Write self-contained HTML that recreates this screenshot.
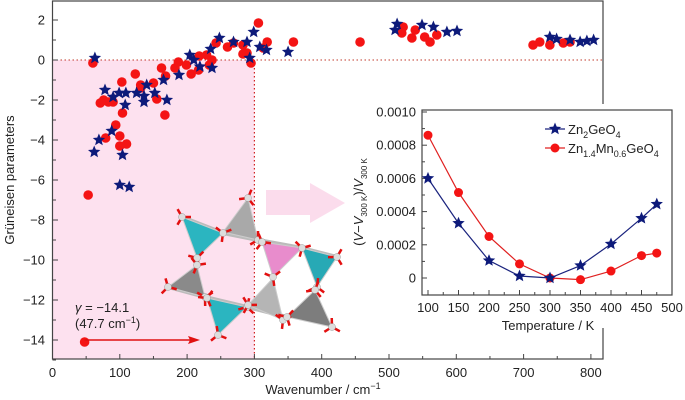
<!DOCTYPE html>
<html><head><meta charset="utf-8"><style>
body{margin:0;background:#fff}
svg{display:block;font-family:"Liberation Sans",sans-serif}
</style></head><body>
<svg id="c" width="685" height="400" viewBox="0 0 685 400"></svg>
<script>
// main chart data
const blueW=[63,62,69,78,88,90,99,109,108,104,100,114,125,136,136,140,152,165,170,188,204,219,237,235,248,269,289,299,308,318,350,293,210,512,509,549,566,586,601,739,749,769,784,794,804];
const blueG=[0.1,-4.6,-4,-1.5,-3.55,-1.85,-1.65,-1.65,-2.25,-4.75,-6.25,-6.35,-1.65,-2.1,-1.8,-1.25,-1.65,-1,-2,-0.75,0.25,-0.33,-0.4,0.55,1.1,0.9,0.9,1.4,0.65,0.5,0.4,0.1,0,1.8,1.5,1.75,1.65,1.4,1.45,1.15,1.05,1.0,0.9,0.95,1.0];
const redW=[60,53,71,76,83,90,79,94,100,100,110,104,103,123,131,131,150,155,162,167,168,182,187,199,206,217,218,229,237,233,243,260,269,283,283,289,295,306,313,319,358,457,521,519,534,539,553,561,571,714,724,739,759,769,47.7];
const redG=[-0.15,-6.75,-2.15,-2.0,-2.1,-2.1,-3.9,-3.25,-3.8,-4.3,-4.2,-2.65,-1.1,-0.7,-1.25,-1.4,-1.15,-1.95,-0.4,-2.75,-0.8,-0.4,-0.1,-0.25,-0.7,-0.5,0.2,0.25,0,-0.25,0.85,0.65,0.85,0.75,0.3,0.35,-0.15,1.85,0.6,0.9,0.9,0.9,1.65,1.35,1.1,1.5,1.15,0.9,1.25,0.75,0.9,0.75,0.85,0.9,-14.1];
const xTicks=[0,100,200,300,400,500,600,700,800];
const yTicks=[2,0,-2,-4,-6,-8,-10,-12,-14];
// inset data
const temps=[100,150,200,250,300,350,400,450,475];
const zgo=[0.00060,0.00033,0.000105,0.000012,0,0.000075,0.000205,0.00036,0.000445];
const zmgo=[0.00086,0.000515,0.00025,0.000085,0,-0.00001,0.000042,0.000135,0.00015];
const ixTicks=[100,150,200,250,300,350,400,450,500];
const iyTicks=[0,0.0002,0.0004,0.0006,0.0008,0.0010];
const iyLabels=["0","0.0002","0.0004","0.0006","0.0008","0.0010"];

const svg=document.getElementById('c');
const NS='http://www.w3.org/2000/svg';
function mk(t,a,p){const e=document.createElementNS(NS,t);for(const k in a)e.setAttribute(k,a[k]);(p||svg).appendChild(e);return e;}
const X=w=>52.5+w*0.673, Y=g=>60-g*20;
const IX=t=>428+(t-100)*0.61, IY=v=>278-v*166000;
function star(cx,cy,r,fill,p){let pts=[];for(let i=0;i<10;i++){const a=-Math.PI/2+i*Math.PI/5,rr=i%2?r*0.45:r;pts.push((cx+rr*Math.cos(a)).toFixed(1)+','+(cy+rr*Math.sin(a)).toFixed(1));}return mk('polygon',{points:pts.join(' '),fill:fill},p);}

// pink region
let e=mk('rect',{x:X(0),y:Y(0),width:X(300)-X(0),height:359-Y(0),fill:'#fde1ef'});

mk('line',{x1:X(0),y1:Y(0),x2:603,y2:Y(0),stroke:'#c0392b','stroke-width':1,'stroke-dasharray':'1.5,2.5'});
mk('line',{x1:X(300),y1:Y(0),x2:X(300),y2:359,stroke:'#d02020','stroke-width':1.2,'stroke-dasharray':'1.5,2.5'});
// frame
e=mk('rect',{x:52.5,y:1,width:550.5,height:358,fill:'none',stroke:'#444','stroke-width':1.2});

const xg=mk('g',{'font-size':13,fill:'#222','text-anchor':'middle'});

xTicks.forEach(t=>{mk('line',{x1:X(t),y1:359,x2:X(t),y2:354,stroke:'#444'},xg);if(t<800)mk('line',{x1:X(t+50),y1:359,x2:X(t+50),y2:356,stroke:'#444'},xg);const tx=mk('text',{x:X(t),y:377},xg);tx.textContent=t;});
const yg=mk('g',{'font-size':13,fill:'#222','text-anchor':'end'});

yTicks.forEach(t=>{mk('line',{x1:52.5,y1:Y(t),x2:58,y2:Y(t),stroke:'#444'},yg);mk('line',{x1:52.5,y1:Y(t-1),x2:56,y2:Y(t-1),stroke:'#444'},yg);const tx=mk('text',{x:45,y:Y(t)+4.5},yg);tx.textContent=t<0?'\u2212'+(-t):t;});
e=mk('text',{x:14,y:180,'font-size':13,fill:'#222','text-anchor':'middle',transform:'rotate(-90 14 180)'});e.textContent='Grüneisen parameters';

e=mk('text',{x:323,y:394,'font-size':13,fill:'#222','text-anchor':'middle'});e.innerHTML='Wavenumber / cm<tspan dy="-5" font-size="9">\u22121</tspan>';


// scatter
const rg=mk('g',{});
redW.forEach((w,i)=>{const c=mk('circle',{cx:X(w),cy:Y(redG[i]),r:4.8,fill:'#f41414'},rg);});
const bg=mk('g',{});
blueW.forEach((w,i)=>{const s=star(X(w),Y(blueG[i]),6.5,'#0d1a7a',bg);});

// annotation
const ag=mk('g',{});
mk('line',{x1:X(47.7),y1:Y(-14),x2:192,y2:Y(-14),stroke:'#e01010','stroke-width':1.5},ag);
mk('polygon',{points:`200,${Y(-14)} 188,${Y(-14)-4} 190,${Y(-14)} 188,${Y(-14)+4}`,fill:'#e01010'},ag);
e=mk('text',{x:75,y:312,'font-size':13,fill:'#222'},ag);e.innerHTML='<tspan font-style="italic">γ</tspan> = \u221214.1';
e=mk('text',{x:75,y:328,'font-size':13,fill:'#222'},ag);e.innerHTML='(47.7 cm<tspan dy="-5" font-size="9">\u22121</tspan><tspan dy="5">)</tspan>';

// big pink arrow
e=mk('polygon',{points:'266,190 310,190 310,183 345,203 310,223 310,215 266,215',fill:'#fbd8ea',opacity:0.9});


// crystal structure
const cg=mk('g',{});
const tris=[['182,217 223,233 197,258','#2bb5c0'],['223,232 248,198 258,240','#a9a9a9'],['262,242 302,248 273,277','#e88ccc'],['302,248 337,257 317,287','#27a9b5'],['168,287 197,265 205,297','#8a8a8a'],['207,298 247,307 218,335','#2bb5c0'],['248,305 273,278 283,320','#b5b5b5'],['287,317 315,290 332,327','#7d7d7d']];
const bars=[[182,217,223,233],[223,233,258,240],[258,240,302,248],[302,248,337,257],[197,258,197,265],[205,297,247,307],[247,307,287,317],[273,277,273,278],[317,287,315,290],[168,287,205,297]];
bars.forEach(b=>mk('line',{x1:b[0],y1:b[1],x2:b[2],y2:b[3],stroke:'#bbb','stroke-width':4},cg));
tris.forEach(t=>mk('polygon',{points:t[0],fill:t[1],stroke:'#ccc','stroke-width':1},cg));
const balls=[[182,217],[223,233],[197,258],[248,198],[258,240],[262,242],[302,248],[273,277],[337,257],[317,287],[168,287],[197,265],[205,297],[207,298],[247,307],[218,335],[248,305],[283,320],[287,317],[315,290],[332,327]];
balls.forEach(([x,y],i)=>{for(let k=0;k<3;k++){const a=(i*1.7+k*2.1);mk('line',{x1:x,y1:y,x2:x+9*Math.cos(a),y2:y+9*Math.sin(a),stroke:'#e31010','stroke-width':2.5},cg);}mk('circle',{cx:x,cy:y,r:3.5,fill:'#ddd',stroke:'#999','stroke-width':0.5},cg);});

// inset
const ig=mk('g',{});
mk('rect',{x:345,y:104,width:340,height:224,fill:'#fff'},ig);
mk('rect',{x:422,y:110,width:250,height:185,fill:'none',stroke:'#444','stroke-width':1.2},ig);
ixTicks.forEach(t=>{mk('line',{x1:IX(t),y1:295,x2:IX(t),y2:290,stroke:'#444'},ig);if(t<500)mk('line',{x1:IX(t+25),y1:295,x2:IX(t+25),y2:292,stroke:'#444'},ig);const tx=mk('text',{x:IX(t),y:312,'font-size':13,fill:'#222','text-anchor':'middle'},ig);tx.textContent=t;});
iyTicks.forEach((t,i)=>{mk('line',{x1:422,y1:IY(t),x2:427,y2:IY(t),stroke:'#444'},ig);if(i<5)mk('line',{x1:422,y1:IY(t+0.0001),x2:425,y2:IY(t+0.0001),stroke:'#444'},ig);const tx=mk('text',{x:416,y:IY(t)+4.5,'font-size':13,fill:'#222','text-anchor':'end'},ig);tx.textContent=iyLabels[i];});
e=mk('text',{x:363,y:202,'font-size':13,fill:'#222','text-anchor':'middle',transform:'rotate(-90 363 202)'},ig);
e.innerHTML='(<tspan font-style="italic">V</tspan>\u2212<tspan font-style="italic">V</tspan><tspan dy="4" font-size="8">300 K</tspan><tspan dy="-4">)/</tspan><tspan font-style="italic">V</tspan><tspan dy="4" font-size="8">300 K</tspan>';

e=mk('text',{x:548,y:330,'font-size':13,fill:'#222','text-anchor':'middle'},ig);e.textContent='Temperature / K';

mk('polyline',{points:temps.map((t,i)=>IX(t)+','+IY(zmgo[i])).join(' '),fill:'none',stroke:'#e02020','stroke-width':1.2},ig);
mk('polyline',{points:temps.map((t,i)=>IX(t)+','+IY(zgo[i])).join(' '),fill:'none',stroke:'#1a237e','stroke-width':1.2},ig);
temps.forEach((t,i)=>{const c=mk('circle',{cx:IX(t),cy:IY(zmgo[i]),r:4.5,fill:'#f41414'},ig);});
temps.forEach((t,i)=>{const s=star(IX(t),IY(zgo[i]),6.5,'#0d1a7a',ig);});
// legend
const lg=mk('g',{});
mk('line',{x1:545,y1:129,x2:565,y2:129,stroke:'#1a237e','stroke-width':1.2},lg);star(555,129,6.5,'#0d1a7a',lg);
e=mk('text',{x:568,y:134,'font-size':13,fill:'#222'},lg);e.innerHTML='Zn<tspan dy="4" font-size="9">2</tspan><tspan dy="-4">GeO</tspan><tspan dy="4" font-size="9">4</tspan>';
mk('line',{x1:545,y1:148,x2:565,y2:148,stroke:'#e02020','stroke-width':1.2},lg);mk('circle',{cx:555,cy:148,r:4.5,fill:'#f41414'},lg);
e=mk('text',{x:568,y:153,'font-size':13,fill:'#222'},lg);e.innerHTML='Zn<tspan dy="4" font-size="9">1.4</tspan><tspan dy="-4">Mn</tspan><tspan dy="4" font-size="9">0.6</tspan><tspan dy="-4">GeO</tspan><tspan dy="4" font-size="9">4</tspan>';
</script>
</body></html>
